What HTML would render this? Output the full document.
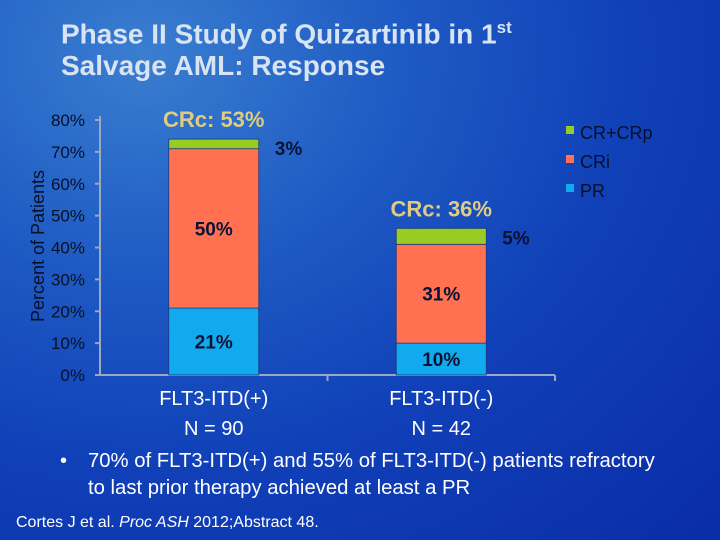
<!DOCTYPE html>
<html><head><meta charset="utf-8"><style>
body{margin:0;width:720px;height:540px;overflow:hidden;font-family:"Liberation Sans",sans-serif;}
#bg{position:absolute;left:0;top:0;width:720px;height:540px;background:radial-gradient(ellipse at 20% 10%,#3a7ed0 0%,#1f5cc4 30%,#1040b8 60%,#0a2ca8 100%);}
.t{position:absolute;color:#d9e4f2;font-weight:bold;font-size:28px;line-height:32px;left:61px;top:12px;}
.b{position:absolute;color:#fff;font-size:20px;line-height:27px;}
</style></head><body>
<div id="bg"></div>
<div class="t">Phase II Study of Quizartinib in 1<sup style="font-size:17px">st</sup><br>Salvage AML: Response</div>
<svg id="chart" width="720" height="540" style="position:absolute;left:0;top:0"></svg>
<div class="b" style="left:60px;top:448px">•</div>
<div class="b" style="left:88px;top:448px;font-size:20.3px">70% of FLT3-ITD(+) and 55% of FLT3-ITD(-) patients refractory<br>to last prior therapy achieved at least a PR</div>
<div style="position:absolute;left:16px;top:514px;color:#fff;font-size:16px">Cortes J et al. <i>Proc ASH</i> 2012;Abstract 48.</div>
<script>
const categories=["FLT3-ITD(+)","FLT3-ITD(-)"];
const nLabels=["N = 90","N = 42"];
const prVals=[21,10];
const criVals=[50,31];
const crVals=[3,5];
const crcLabels=["CRc: 53%","CRc: 36%"];
const yTicks=[0,10,20,30,40,50,60,70,80];
const seriesNames=["CR+CRp","CRi","PR"];
const colors={"CR+CRp":"#99cc22","CRi":"#ff7150","PR":"#11aaee"};
const svg=document.getElementById('chart');
const NS='http://www.w3.org/2000/svg';
const x0=100,x1=555,y0=375,y80=120;
const y=v=>y0-(v/80)*(y0-y80);
const bandW=(x1-x0)/categories.length;
const cx=i=>x0+bandW*(i+0.5);
const bw=90;
function el(tag,attrs,text){const e=document.createElementNS(NS,tag);for(const k in attrs)e.setAttribute(k,attrs[k]);if(text!==undefined)e.textContent=text;svg.appendChild(e);return e;}
let a=el('line',{x1:x0,y1:y80-4,x2:x0,y2:y0,stroke:'#9aa8c0','stroke-width':2});


a=el('line',{x1:x0,y1:y0,x2:x1,y2:y0,stroke:'#9aa8c0','stroke-width':2});


yTicks.forEach(v=>{
 let t=el('line',{x1:x0-5,y1:y(v),x2:x0,y2:y(v),stroke:'#9aa8c0','stroke-width':2});
 
 
 let l=el('text',{x:x0-15,y:y(v)+6,'text-anchor':'end','font-size':17,fill:'#081028'},v+'%');
 
 
});
for(let i=1;i<=categories.length;i++){let t=el('line',{x1:x0+bandW*i,y1:y0,x2:x0+bandW*i,y2:y0+6,stroke:'#9aa8c0','stroke-width':2});
 
 }
let yt=el('text',{x:0,y:0,transform:'translate(44,246) rotate(-90)','text-anchor':'middle','font-size':18,fill:'#081028'},'Percent of Patients');


categories.forEach((c,i)=>{
 const xl=cx(i)-bw/2;
 const segs=[[prVals[i],'PR'],[criVals[i],'CRi'],[crVals[i],'CR+CRp']];
 let base=0;
 segs.forEach(([v,n],k)=>{
  let r=el('rect',{x:xl,y:y(base+v),width:bw,height:y(base)-y(base+v),fill:colors[n],stroke:'#1a3a80','stroke-width':0.8});
  
  
  let tx,ty,anchor='middle';
  if(k<2){tx=cx(i);ty=(y(base)+y(base+v))/2+7;}
  else{tx=xl+bw+16;ty=y(base+v)+16;anchor='start';}
  let l=el('text',{x:tx,y:ty,'text-anchor':anchor,'font-size':19,'font-weight':'bold',fill:'#0a1235'},v+'%');
  
  
  base+=v;
 });
 let cl=el('text',{x:cx(i),y:y(base)-12,'text-anchor':'middle','font-size':22,'font-weight':'bold',fill:'#e0cc80'},crcLabels[i]);
 
 
 let xl1=el('text',{x:cx(i),y:405,'text-anchor':'middle','font-size':20,fill:'#fff'},c);
 
 
 let xl2=el('text',{x:cx(i),y:435,'text-anchor':'middle','font-size':20,fill:'#fff'},nLabels[i]);
 
 
});
seriesNames.forEach((n,k)=>{
 let r=el('rect',{x:566,y:126+k*29,width:8,height:8,fill:colors[n]});
 
 
 let t=el('text',{x:580,y:139+k*29,'font-size':18,fill:'#081028'},n);
 
 
});
</script>
</body></html>
